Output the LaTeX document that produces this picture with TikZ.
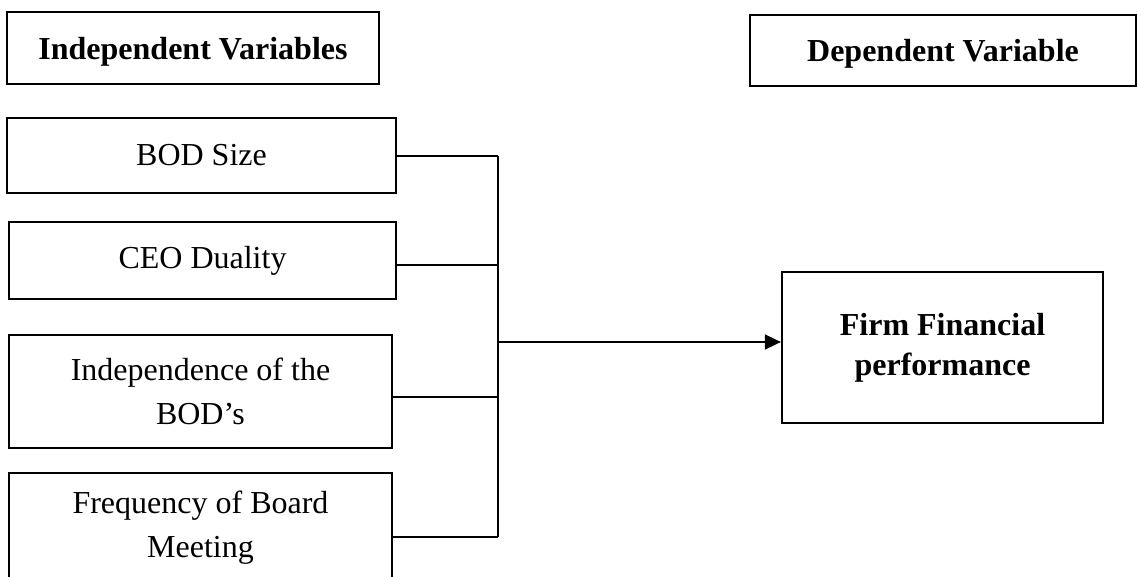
\documentclass[tikz,border=0pt]{standalone}
\usepackage{fontspec}
\setmainfont{Liberation Serif}
\usetikzlibrary{arrows.meta,calc}
\begin{document}
\begin{tikzpicture}[x=1pt,y=-1pt,
  box/.style={draw=black,line width=2.3pt,inner sep=0pt,align=center,
    font=\fontsize{32}{44}\selectfont},
  head/.style={box,font=\fontsize{32}{44}\selectfont\bfseries},
  conn/.style={draw=black,line width=1.1pt},
  arr/.style={draw=black,line width=1.9pt,-{Triangle[length=16pt,width=15pt]}}]
\useasboundingbox (0,0) rectangle (1138,577);
\clip (0,0) rectangle (1138,577);
\fill[white] (0,0) rectangle (1138,577);
% headers
\node[head,minimum width=372pt,minimum height=72pt,text depth=-2pt] (ih) at (193,48) {Independent Variables};
\node[head,minimum width=386pt,minimum height=71pt,text depth=-2pt] (dh) at (943,50.5) {Dependent Variable};
% independent variables
\node[box,minimum width=389pt,minimum height=75pt] (bod) at (201.5,155.5) {BOD Size};
\node[box,minimum width=387pt,minimum height=77pt] (ceo) at (202.5,260.5) {CEO Duality};
\node[box,minimum width=383pt,minimum height=113pt] (ind) at (200.5,391.5) {Independence of the\\BOD’s};
\node[box,minimum width=383pt,minimum height=110pt] (freq) at (200.5,528) {Frequency of Board\\Meeting};
% dependent variable
\node[head,minimum width=321pt,minimum height=151pt,font=\fontsize{32}{40}\selectfont\bfseries] (firm) at (942.5,347.5) {Firm Financial\\performance};
% connectors
\coordinate (bus) at (498,342);
\coordinate (b1) at ($(bod.east)+(0,0.5)$);
\coordinate (b2) at ($(ceo.east)+(0,4.5)$);
\coordinate (b3) at ($(ind.east)+(0,5.5)$);
\coordinate (b4) at ($(freq.east)+(0,9)$);
\draw[conn] (b1) -- (b1 -| bus);
\draw[conn] (b2) -- (b2 -| bus);
\draw[conn] (b3) -- (b3 -| bus);
\draw[conn] (b4) -- (b4 -| bus);
\draw[conn] (b1 -| bus) -- (b4 -| bus);
\draw[arr] (bus) -- (firm.west |- bus);
\end{tikzpicture}
\end{document}
